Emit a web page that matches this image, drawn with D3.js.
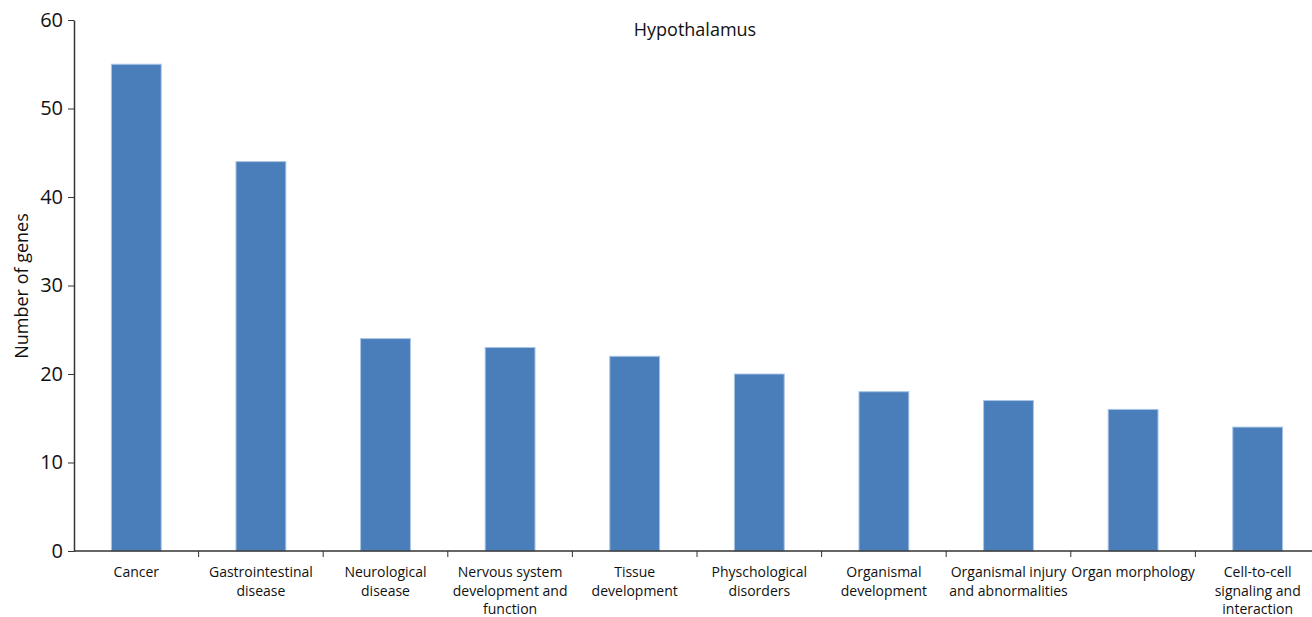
<!DOCTYPE html>
<html>
<head>
<meta charset="utf-8">
<script src="https://cdn.jsdelivr.net/npm/d3@7"></script>
<style>
  body { margin: 0; background: #fff; }
  svg { display: block; font-family: "Open Sans", sans-serif; }
  .axis path, .axis line { stroke: #333; }
</style>
</head>
<body>
<div id="main"></div>
<script>
// categories, values
var categories = [
  "Cancer",
  "Gastrointestinal disease",
  "Neurological disease",
  "Nervous system development and function",
  "Tissue development",
  "Physchological disorders",
  "Organismal development",
  "Organismal injury and abnormalities",
  "Organ morphology",
  "Cell-to-cell signaling and interaction"
];
// how each label breaks into lines
var labelLines = [
  ["Cancer"],
  ["Gastrointestinal", "disease"],
  ["Neurological", "disease"],
  ["Nervous system", "development and", "function"],
  ["Tissue", "development"],
  ["Physchological", "disorders"],
  ["Organismal", "development"],
  ["Organismal injury", "and abnormalities"],
  ["Organ morphology"],
  ["Cell-to-cell", "signaling and", "interaction"]
];
var genes = [55, 44, 24, 23, 22, 20, 18, 17, 16, 14];
var yTicks = [0, 10, 20, 30, 40, 50, 60];

var width = 1312, height = 617;
var mLeft = 74, mTop = 20, mBottom = 551;

var svg = d3.select("#main").append("svg")
  .attr("width", width)
  .attr("height", height);

var x = d3.scaleBand()
  .domain(categories)
  .range([mLeft, mLeft + 1246])
  .paddingInner(0.6)
  .paddingOuter(0.3);

var y = d3.scaleLinear()
  .domain([0, 60])
  .range([mBottom, mTop]);

// bars
svg.selectAll("rect.bar")
  .data(genes)
  .enter().append("rect")
    .attr("class", "bar")
    .attr("x", function(d, i) { return x(categories[i]); })
    .attr("y", function(d) { return y(d); })
    .attr("width", x.bandwidth())
    .attr("height", function(d) { return mBottom - y(d); })
    .attr("fill", "#4a7eba")
    .attr("stroke", "#a9c4e6")
    .attr("stroke-width", 1);

// y axis
var yAxis = svg.append("g")
  .attr("class", "axis")
  .attr("transform", "translate(" + mLeft + ",0)")
  .call(d3.axisLeft(y).tickValues(yTicks).tickSize(6).tickPadding(5).tickSizeOuter(0));
yAxis.attr("font-family", "Open Sans, sans-serif");
yAxis.select(".domain").attr("stroke-width", 1.5);
yAxis.selectAll("text")
  .attr("fill", "#111")
  .style("font-size", "20px");

// x axis: line to the picture edge, ticks between categories
var xg = svg.append("g").attr("class", "axis");
xg.append("line")
  .attr("x1", mLeft).attr("x2", width)
  .attr("y1", mBottom).attr("y2", mBottom)
  .attr("stroke-width", 1.5);
xg.selectAll("line.tick")
  .data(categories.slice(1))
  .enter().append("line")
    .attr("class", "tick")
    .attr("x1", function(d) { return x(d) - x.bandwidth() * 0.75; })
    .attr("x2", function(d) { return x(d) - x.bandwidth() * 0.75; })
    .attr("y1", mBottom)
    .attr("y2", mBottom + 6);

// category labels
var labels = svg.selectAll("text.cat")
  .data(categories)
  .enter().append("text")
    .attr("class", "cat")
    .attr("text-anchor", "middle")
    .attr("fill", "#111")
    .style("font-size", "14px")
    .attr("transform", function(d) {
      return "translate(" + (x(d) + x.bandwidth() / 2) + "," + (mBottom + 26) + ")";
    });
labels.each(function(d, i) {
  var t = d3.select(this);
  labelLines[i].forEach(function(line, j) {
    t.append("tspan").attr("x", 0).attr("y", j * 18.5).text(line);
  });
});

// y title
svg.append("text")
  .attr("transform", "translate(28,286) rotate(-90)")
  .attr("text-anchor", "middle")
  .attr("fill", "#111")
  .style("font-size", "18px")
  .text("Number of genes");

// chart title
svg.append("text")
  .attr("x", 695)
  .attr("y", 36)
  .attr("text-anchor", "middle")
  .attr("fill", "#111")
  .style("font-size", "18px")
  .text("Hypothalamus");
</script>
</body>
</html>
